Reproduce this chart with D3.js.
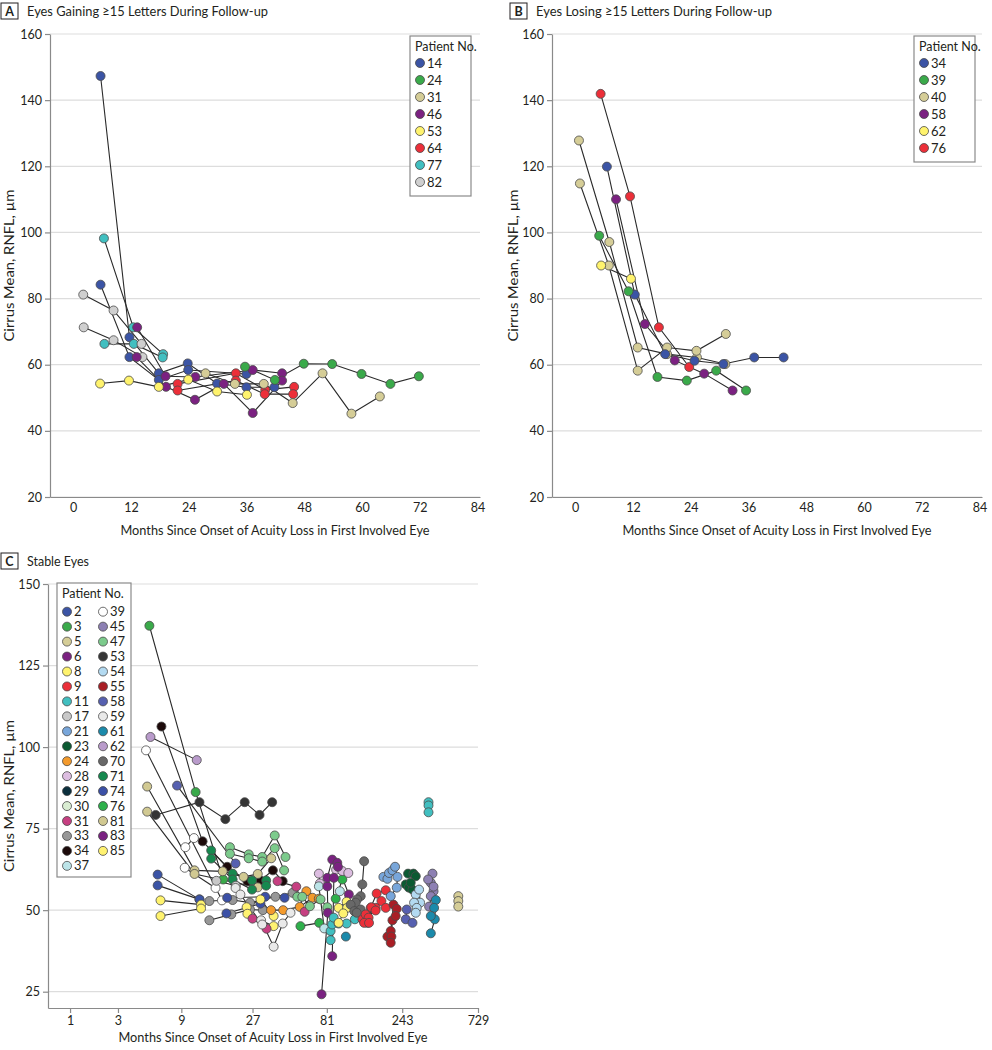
<!DOCTYPE html>
<html><head><meta charset="utf-8">
<script src="https://cdn.jsdelivr.net/npm/d3@7"></script>
<style>
body{margin:0;background:#fff;}
svg text{font-family:Lato,"Noto Sans",sans-serif;fill:#231f20;}
</style></head><body>
<svg id="c" width="992" height="1050"></svg>
<script>
// ---------- DATA ----------
const yTicksAB = [20, 40, 60, 80, 100, 120, 140, 160];
const xTicksAB = [0, 12, 24, 36, 48, 60, 72, 84];
const yTicksC = [25, 50, 75, 100, 125, 150];
const xTicksC = [1, 3, 9, 27, 81, 243, 729];

const patientsA = ["14", "24", "31", "46", "53", "64", "77", "82"];
const patientsB = ["34", "39", "40", "58", "62", "76"];
const patientsC = ["2","3","5","6","8","9","11","17","21","23","24","28","29","30","31","33","34","37",
                   "39","45","47","53","54","55","58","59","61","62","70","71","74","76","81","83","85"];

// [months, RNFL µm]
const seriesA = [
  {p:"14", pts:[[5.7,147.3],[11.7,68.3],[17.8,57.4],[23.8,60.4],[29.9,54.3],[36,53.2],[41.8,53.2]]},
  {p:"14", pts:[[5.7,84.2],[11.7,62.3],[17.8,55.4],[23.9,58.4],[36,57.2]]},
  {p:"77", pts:[[6.4,98.2],[12.5,71.3],[18.7,63.2]]},
  {p:"77", pts:[[6.5,66.3],[12.6,66.3],[18.6,62.2]]},
  {p:"82", pts:[[2.1,81.2],[8.4,76.4],[14.2,66.3]]},
  {p:"82", pts:[[2.2,71.3],[8.4,67.4],[14.4,62.3]]},
  {p:"46", pts:[[13.3,71.3],[19.2,56.5],[25.4,56.3],[37.3,58.4],[43.4,57.4]]},
  {p:"46", pts:[[13.2,62.3],[19.3,53.3],[25.3,49.4],[31.3,54.2],[37.3,45.4],[43.4,55.2]]},
  {p:"53", pts:[[5.6,54.3],[11.6,55.2],[17.8,53.3],[23.9,55.5],[29.9,51.9],[36.1,50.9]]},
  {p:"64", pts:[[21.7,54.2],[33.8,57.4],[39.9,52.4],[45.9,53.3]]},
  {p:"64", pts:[[21.7,52.2],[33.8,55.2],[39.8,51.1],[45.7,51.1]]},
  {p:"31", pts:[[27.5,57.4],[33.6,54.2],[39.6,54.2],[45.6,48.4],[51.8,57.4],[57.8,45.2],[63.7,50.4]]},
  {p:"24", pts:[[35.7,59.4],[41.9,55.4],[47.9,60.3],[53.8,60.2],[59.9,57.2],[65.9,54.2],[71.8,56.5]]}
];

const seriesB = [
  {p:"76", pts:[[5.3,141.9],[11.4,110.9],[17.4,71.3],[23.7,59.3]]},
  {p:"40", pts:[[0.8,127.8],[7.1,97.1],[13,65.2],[19.1,63.2],[25.3,62.2],[31.2,60.2]]},
  {p:"40", pts:[[1.0,114.8],[7.0,90],[13,58.2],[19.1,65.2],[25.2,64.2],[31.3,69.3]]},
  {p:"34", pts:[[6.6,119.9],[12.4,81.2],[18.7,63.2],[24.8,61.2],[30.8,60.2],[37.2,62.2],[43.3,62.2]]},
  {p:"58", pts:[[8.5,110],[14.5,72.3],[20.7,61.3],[26.8,57.3],[32.7,52.2]]},
  {p:"39", pts:[[5.0,99],[11.1,82.2],[17.1,56.3],[23.2,55.2],[29.3,58.2],[35.5,52.2]]},
  {p:"62", pts:[[5.4,90],[11.6,86]]}
];

const seriesC = [
  {p:"3",  pts:[[5.3,137.2],[11.3,86.2],[17.3,59.4]]},
  {p:"34", pts:[[6.5,106.3],[12.6,71.1],[18.4,63.3],[25,58.9],[30.4,59.1],[36.6,62.2],[42.3,58.9]]},
  {p:"62", pts:[[5.4,103.1],[11.5,96]]},
  {p:"39", pts:[[5,99],[17,53]]},
  {p:"39", pts:[[9.6,69.3],[11,72.1]]},
  {p:"39", pts:[[9.5,63],[15.4,56.8]]},
  {p:"58", pts:[[8.4,88.2],[20.9,64.3]]},
  {p:"81", pts:[[5.1,87.9],[11.1,62.2],[17.2,61.9],[23.6,60.2],[29.2,61.1],[35.7,65.9]]},
  {p:"81", pts:[[5.1,80.2],[11.1,61.1],[29.2,57]]},
  {p:"53", pts:[[5.9,79.2],[12,83.1],[17.9,77.9],[24,83.1],[30,79.2],[36.2,83.1]]},
  {p:"47", pts:[[19.2,69.3],[25.5,67.1],[31.2,66.3],[37.6,72.9],[44.1,66.3]]},
  {p:"47", pts:[[19.2,67.3],[25.5,65.9],[31.2,64.9],[37.6,69],[43.2,62.2]]},
  {p:"71", pts:[[14.4,68.3],[20,61.2],[26.8,59.1],[33.1,59.1]]},
  {p:"71", pts:[[14.4,65.8],[20,59.4],[26.8,56.3],[33.1,57.5]]},
  {p:"17", pts:[[15.6,59],[21,57.5]]},
  {p:"2",  pts:[[6.1,60.9],[12,53.3]]},
  {p:"2",  pts:[[6.1,57.6],[12,53.3]]},
  {p:"8",  pts:[[6.4,53],[12.3,51.7]]},
  {p:"8",  pts:[[6.4,48.2],[12.3,50.5]]},
  {p:"33", pts:[[14,52.8],[20,53.1],[26,52.3],[38,54.1],[49,55.3]]},
  {p:"33", pts:[[14,46.9],[19.6,48.7],[26,50.2],[31.5,50]]},
  {p:"74", pts:[[18.4,53.8],[32.6,54.1],[43.5,53.8]]},
  {p:"74", pts:[[18.2,49],[30.4,52]]},
  {p:"85", pts:[[24.7,50.9],[30.4,53.3],[37,48.2]]},
  {p:"85", pts:[[25,48.9],[37,45.1]]},
  {p:"24", pts:[[35.6,50],[42.6,50],[54.4,51],[65.6,53.8]]},
  {p:"24", pts:[[60,55.8],[72,53.5]]},
  {p:"31", pts:[[27,47.4],[33.3,44.3]]},
  {p:"31", pts:[[39.2,58.9],[51.7,57.2],[58.5,49.5]]},
  {p:"59", pts:[[30.7,46.9],[37,38.8],[42.3,45.9],[47.5,49.2]]},
  {p:"59", pts:[[20.9,56.8],[22.5,54.8],[31.2,45.6]]},
  {p:"47", pts:[[52.5,54.1],[56.5,54.1],[63.2,51.2],[73.9,53.3],[81.6,50.9]]},
  {p:"76", pts:[[55,45.1],[72.5,46.1]]},
  {p:"76", pts:[[92.2,53.5],[101.6,59.4]]},
  {p:"28", pts:[[72.1,61.2],[73.2,58.2]]},
  {p:"28", pts:[[92.8,62.4],[101.6,62],[110.9,61.4]]},
  {p:"37", pts:[[72.1,57.3],[78,44.4]]},
  {p:"37", pts:[[98,55.8]]},
  {p:"83", pts:[[75,24.2],[82.2,49.2],[81.6,57.3],[81.6,59.9],[87.7,65.5],[94.4,64.5]]},
  {p:"83", pts:[[87.7,35.9],[89.8,59.9],[95.3,63.3],[111.8,54.8]]},
  {p:"11", pts:[[85.6,40.8],[85.6,43.6],[87.5,45.6],[89.5,47.7]]},
  {p:"11", pts:[[96.3,45.9],[108.2,45.9],[122,47.2]]},
  {p:"61", pts:[[107,41.9]]},
  {p:"85", pts:[[96.3,50.7],[108.2,52.6],[109,50.7],[103,49],[96.3,46.1]]},
  {p:"70", pts:[[139.6,65],[136,57.9],[132.8,54.3],[126,53.3],[123.4,52.3]]},
  {p:"70", pts:[[132.8,50.2],[114.7,51.7],[121,49.7],[125.4,49.2]]},
  {p:"9",  pts:[[136.2,47.2],[146.4,46.1],[153.6,50.7],[167.6,55.1],[191.2,56.1]]},
  {p:"9",  pts:[[142.8,48.7],[149,47.7],[165.2,50.7],[179.6,52.8],[191.2,50.7]]},
  {p:"9",  pts:[[139.6,46.1],[150,46.1],[155,50.9],[165,49.9]]},
  {p:"55", pts:[[196,41.9],[205.6,43.6],[213.9,51.7],[224.4,50.4]]},
  {p:"55", pts:[[207.6,41.9],[205.6,40],[210.8,46.9],[221,48.2]]},
  {p:"21", pts:[[184.8,60.2],[196,59.6],[200.6,61.4],[210.8,62.2],[219,63.3]]},
  {p:"21", pts:[[226.8,60.2],[224.4,56.9],[205.6,54.3]]},
  {p:"23", pts:[[264.4,61.2],[286,61.2],[295.8,60.4]]},
  {p:"23", pts:[[255.8,57.9],[267.4,56.9],[282,56.3],[275,58.4]]},
  {p:"54", pts:[[295.8,54.8],[310.4,56.3],[315,52.3]]},
  {p:"54", pts:[[288.6,52.3],[300,50.7],[295.8,49.2]]},
  {p:"58", pts:[[259.6,50.2],[255.8,47.2],[282,46.1]]},
  {p:"45", pts:[[377,61.2],[368,58.4],[382.8,55.8],[368,54.3]]},
  {p:"45", pts:[[353.8,59.4],[382.8,57.2],[359,51.1]]},
  {p:"61", pts:[[395.6,53.1],[389.8,47.2],[368,42.9]]},
  {p:"61", pts:[[386,50.7],[368,48.2]]},
  {p:"11", pts:[[355.8,83.1],[355.8,82.1],[355.8,80]]},
  {p:"5",  pts:[[548,54.3],[548,52.8],[548,51.1]]}
];

// ---------- STYLE ----------
const colorsA = {"14":"#3b54a5","24":"#3aaa4a","31":"#d5cd97","46":"#7b2181","53":"#fff36d",
                 "64":"#ec2f39","77":"#41bfc0","82":"#cfcfcf"};
const colorsB = {"34":"#3b54a5","39":"#3aaa4a","40":"#d5cd97","58":"#7b2181","62":"#fff36d","76":"#ec2f39"};
const colorsC = {
  "2":"#3b54a5","3":"#3aaa4a","5":"#d5cd97","6":"#7b2181","8":"#fff36d","9":"#ec2f39","11":"#41bfc0",
  "17":"#c8c8c8","21":"#78a6da","23":"#0b5a32","24":"#f39a2c","28":"#dcbde0","29":"#0b2f3c",
  "30":"#d9edd2","31":"#c63f81","33":"#979797","34":"#1c0a0a","37":"#bce4e8","39":"#ffffff",
  "45":"#8d80b3","47":"#7ccb8c","53":"#353535","54":"#b3daf1","55":"#a91e25","58":"#5660b0",
  "59":"#e9e9e9","61":"#1b8aab","62":"#b99bcb","70":"#686868","71":"#16894f","74":"#3b50a6",
  "76":"#2eb04b","81":"#d1c992","83":"#7a2181","85":"#fff271"
};

const svg = d3.select("#c");
const R = 4.5;

function panelLabel(x, y, letter, title, len) {
  svg.append("rect").attr("x", x).attr("y", y).attr("width", 17).attr("height", 16)
    .attr("fill", "none").attr("stroke", "#231f20").attr("stroke-width", 1);
  svg.append("text").attr("x", x + 8.5).attr("y", y + 12.5).attr("text-anchor", "middle")
    .attr("font-size", 12.5).attr("font-weight", 700).text(letter);
  svg.append("text").attr("x", x + 26).attr("y", y + 13).attr("font-size", 14)
    .attr("textLength", len).attr("lengthAdjust", "spacingAndGlyphs").text(title);
}

function drawPanel(o) {
  const g = svg.append("g");
  const [x0, x1] = o.x.range();
  const [yb, yt] = o.y.range();
  const X = o.xpos, Y = o.y, C = o.colors;
  // grid
  g.append("g").selectAll("line").data(o.yTicks).join("line")
    .attr("x1", x0).attr("x2", x1).attr("y1", d => Y(d)).attr("y2", d => Y(d))
    .attr("stroke", "#dddddd").attr("stroke-width", 1.2);
  // axes
  const ay = g.append("g").attr("transform", `translate(${x0},0)`)
    .call(d3.axisLeft(Y).tickValues(o.yTicks).tickSize(5).tickSizeOuter(0).tickPadding(3));
  const ax = g.append("g").attr("transform", `translate(0,${yb})`)
    .call(o.xAxis);
  [ay, ax].forEach(a => {
    a.select(".domain").attr("stroke", "#8a8a8a").attr("stroke-width", 1.2);
    a.selectAll(".tick line").attr("stroke", "#8a8a8a").attr("stroke-width", 1.2);
    a.selectAll(".tick text").attr("font-size", 12.5).attr("fill", "#231f20")
      .style("font-family", "Lato, 'Noto Sans', sans-serif");
  });
  // titles
  g.append("text").attr("transform", `translate(${o.ytX},${(yb + yt) / 2}) rotate(-90)`)
    .attr("text-anchor", "middle").attr("font-size", 13).attr("textLength", 152)
    .attr("lengthAdjust", "spacingAndGlyphs").text("Cirrus Mean, RNFL, µm");
  g.append("text").attr("x", (x0 + x1) / 2 + 10).attr("y", o.xtY).attr("text-anchor", "middle")
    .attr("font-size", 13.5).attr("textLength", 309).attr("lengthAdjust", "spacingAndGlyphs")
    .text("Months Since Onset of Acuity Loss in First Involved Eye");
  // lines
  const line = d3.line().x(d => X(d[0])).y(d => Y(d[1]));
  g.append("g").selectAll("path").data(o.series.filter(s => s.pts.length > 1)).join("path")
    .attr("d", s => line(s.pts)).attr("fill", "none").attr("stroke", "#2a2a2a").attr("stroke-width", 1.1);
  // points
  const pts = o.series.flatMap(s => s.pts.map(d => ({p: s.p, m: d[0], v: d[1]})));
  g.append("g").selectAll("circle").data(pts).join("circle")
    .attr("cx", d => X(d.m)).attr("cy", d => Y(d.v)).attr("r", R)
    .attr("fill", d => C[d.p]).attr("stroke", "#4a4a4a").attr("stroke-width", 0.8);
  // legend
  const L = o.legend;
  const lg = g.append("g");
  lg.append("rect").attr("x", L.x).attr("y", L.y).attr("width", L.w).attr("height", L.h)
    .attr("fill", "#fff").attr("stroke", "#8a8a8a").attr("stroke-width", 1.2);
  lg.append("text").attr("x", L.x + 5).attr("y", L.y + 15).attr("font-size", 12.5).text("Patient No.");
  L.items.forEach((p, i) => {
    const col = Math.floor(i / L.perCol), row = i % L.perCol;
    const cx = L.x + 10 + col * L.colW, cy = L.y + L.first + row * L.step;
    lg.append("circle").attr("cx", cx).attr("cy", cy).attr("r", R)
      .attr("fill", C[p]).attr("stroke", "#4a4a4a").attr("stroke-width", 0.8);
    lg.append("text").attr("x", cx + 7).attr("y", cy + 4.5).attr("font-size", 13).text(p);
  });
}

// Panel A
const xA = d3.scaleLinear().domain([-4.8, 84.5]).range([50, 480]);
const yA = d3.scaleLinear().domain([20, 160]).range([497, 34]);
panelLabel(1, 3, "A", "Eyes Gaining ≥15 Letters During Follow-up", 241);
drawPanel({x: xA, y: yA, xpos: xA, yTicks: yTicksAB, series: seriesA, colors: colorsA,
  xAxis: d3.axisBottom(xA).tickValues(xTicksAB).tickSize(0).tickSizeOuter(0).tickPadding(6),
  ytX: 14, xtY: 535,
  legend: {x: 410, y: 36, w: 61, h: 160, first: 27, step: 17, perCol: 8, colW: 0, items: patientsA}});

// Panel B
const xB = d3.scaleLinear().domain([-4.8, 84.5]).range([552, 982]);
const yB = d3.scaleLinear().domain([20, 160]).range([497, 34]);
panelLabel(510, 3, "B", "Eyes Losing ≥15 Letters During Follow-up", 236);
drawPanel({x: xB, y: yB, xpos: xB, yTicks: yTicksAB, series: seriesB, colors: colorsB,
  xAxis: d3.axisBottom(xB).tickValues(xTicksAB).tickSize(0).tickSizeOuter(0).tickPadding(6),
  ytX: 518, xtY: 535,
  legend: {x: 914, y: 36, w: 61, h: 126, first: 27, step: 17, perCol: 6, colW: 0, items: patientsB}});

// Panel C (log scale of months + 1)
const xC = d3.scaleLog().domain([1.454, 730]).range([48, 478]);
const posC = m => xC(m + 1);
const yC = d3.scaleLinear().domain([20, 150]).range([1008, 584]);
panelLabel(1, 553, "C", "Stable Eyes", 62);
drawPanel({x: xC, y: yC, xpos: posC, yTicks: yTicksC, series: seriesC, colors: colorsC,
  xAxis: d3.axisBottom(xC).tickValues(xTicksC.map(v => v + 1)).tickFormat(d => Math.round(d - 1))
    .tickSize(5).tickSizeOuter(0).tickPadding(3),
  ytX: 14, xtY: 1042,
  legend: {x: 57, y: 583, w: 74, h: 294, first: 28.7, step: 14.95, perCol: 18, colW: 36, items: patientsC}});
</script></body></html>
